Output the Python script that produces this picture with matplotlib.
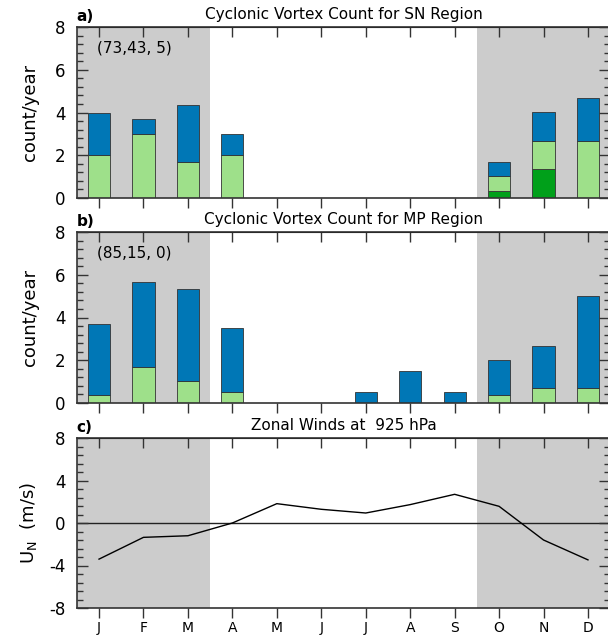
import numpy as np
import matplotlib.pyplot as plt
from matplotlib.ticker import MultipleLocator

plt.rcParams['axes.unicode_minus'] = False

months = ['J', 'F', 'M', 'A', 'M', 'J', 'J', 'A', 'S', 'O', 'N', 'D']

# panel a: SN region, stacked counts (dark green, light green, blue)
sn_dark = [0, 0, 0, 0, 0, 0, 0, 0, 0, 0.35, 1.36, 0]
sn_light = [2.0, 3.0, 1.68, 2.0, 0, 0, 0, 0, 0, 0.68, 1.32, 2.68]
sn_blue = [2.0, 0.69, 2.67, 1.0, 0, 0, 0, 0, 0, 0.65, 1.34, 1.99]

# panel b: MP region
mp_dark = [0] * 12
mp_light = [0.36, 1.68, 1.03, 0.51, 0, 0, 0, 0, 0, 0.36, 0.68, 0.68]
mp_blue = [3.33, 4.0, 4.31, 3.01, 0, 0, 0.51, 1.52, 0.51, 1.65, 2.0, 4.33]

# panel c: zonal wind at 925 hPa
u925 = [-3.4, -1.35, -1.2, 0.0, 1.82, 1.29, 0.94, 1.73, 2.7, 1.57, -1.6, -3.47]

c_blue = '#0077b6'
c_light = '#9ee08a'
c_dark = '#00a01a'
c_gray = '#cccccc'

fig = plt.figure(figsize=(6.08, 6.35), dpi=100)
x = np.arange(12)

L, W = 76.8 / 608, 533.4 / 608
boxes = [(27, 198), (232, 403), (438, 608)]


def make_axes(top, bot, ylim, major, minor):
    ax = fig.add_axes([L, 1 - bot / 635, W, (bot - top) / 635])
    ax.set_xlim(-0.5, 11.5)
    ax.set_ylim(*ylim)
    ax.axvspan(-0.5, 2.5, color=c_gray, lw=0, zorder=0)
    ax.axvspan(8.5, 11.5, color=c_gray, lw=0, zorder=0)
    ax.set_xticks(x)
    ax.set_xticklabels(months if bot == 608 else [''] * 12, fontsize=10)
    ax.tick_params(axis='x', direction='out', length=7, width=1, colors='#333333',
                   labelcolor='black', pad=2.5)
    sec = ax.secondary_xaxis('top')
    sec.set_xticks(x)
    sec.tick_params(direction='in', length=7.5, width=1, colors='#333333', labeltop=False)
    ax.yaxis.set_major_locator(MultipleLocator(major))
    ax.yaxis.set_minor_locator(MultipleLocator(minor))
    ax.tick_params(axis='y', which='major', direction='in', length=8, width=1,
                   left=True, right=True, labelsize=12, pad=8, colors='#333333',
                   labelcolor='black')
    ax.tick_params(axis='y', which='minor', direction='in', length=4.5, width=1,
                   left=True, right=True, colors='#333333')
    for s in ax.spines.values():
        s.set_color('#333333')
        s.set_linewidth(1.2)
    return ax


def stack(ax, dark, light, blue):
    kw = dict(width=0.5, edgecolor='#333333', linewidth=0.6, zorder=2)
    dark = np.array(dark)
    light = np.array(light)
    blue = np.array(blue)
    ax.bar(x, dark, color=c_dark, **kw)
    ax.bar(x, light, bottom=dark, color=c_light, **kw)
    ax.bar(x, blue, bottom=dark + light, color=c_blue, **kw)


axa = make_axes(*boxes[0], (0, 8), 2, 0.4)
stack(axa, sn_dark, sn_light, sn_blue)
axa.set_ylabel('count/year', fontsize=13)
axa.text(-0.05, 7.0, '(73,43, 5)', fontsize=11, va='center')
axa.set_title('Cyclonic Vortex Count for SN Region', fontsize=11, pad=6)
axa.text(0.0, 1.02, 'a)', transform=axa.transAxes, fontsize=11, fontweight='bold',
         ha='left', va='bottom')

axb = make_axes(*boxes[1], (0, 8), 2, 0.4)
stack(axb, mp_dark, mp_light, mp_blue)
axb.set_ylabel('count/year', fontsize=13)
axb.text(-0.05, 7.0, '(85,15, 0)', fontsize=11, va='center')
axb.set_title('Cyclonic Vortex Count for MP Region', fontsize=11, pad=6)
axb.text(0.0, 1.02, 'b)', transform=axb.transAxes, fontsize=11, fontweight='bold',
         ha='left', va='bottom')

axc = make_axes(*boxes[2], (-8, 8), 4, 0.8)
axc.axhline(0, color='#222222', lw=1, zorder=1)
axc.plot(x, u925, color='black', lw=1, zorder=2)
axc.set_ylabel(r'U$_\mathrm{N}$  (m/s)', fontsize=13)
axc.set_title('Zonal Winds at  925 hPa', fontsize=11, pad=6)
axc.text(0.0, 1.02, 'c)', transform=axc.transAxes, fontsize=11, fontweight='bold',
         ha='left', va='bottom')

for ax in (axa, axb, axc):
    ax.yaxis.set_label_coords(-0.07, 0.5)

fig.savefig('out.png', dpi=100)
